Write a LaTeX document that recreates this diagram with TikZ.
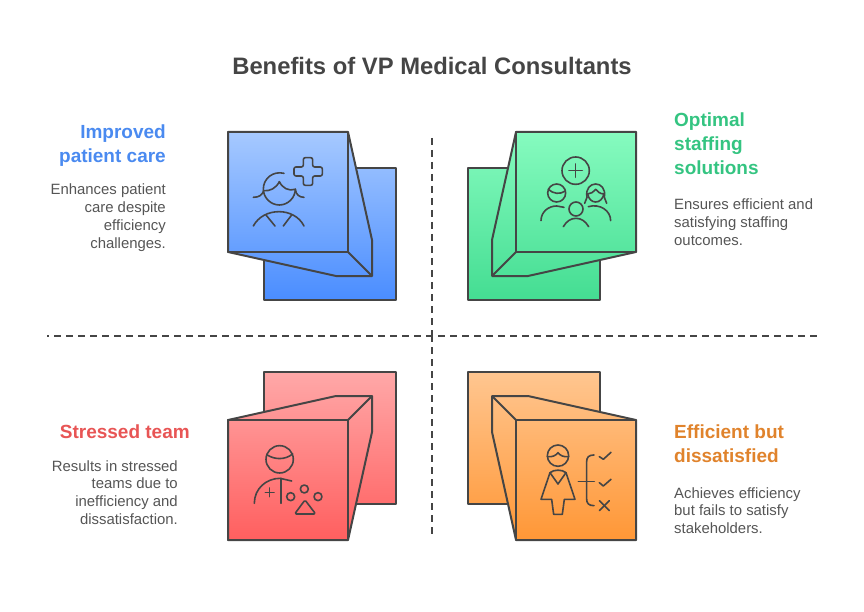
\documentclass[tikz,border=0pt]{standalone}
\usepackage{fontspec}
\setmainfont{Liberation Sans}
\usetikzlibrary{positioning}
\definecolor{inkline}{HTML}{454545}
\definecolor{bodytext}{HTML}{555555}
\definecolor{blueT}{HTML}{A6C9FF}
\definecolor{blueB}{HTML}{4A8DFF}
\definecolor{greenT}{HTML}{86FBBF}
\definecolor{greenB}{HTML}{44DD92}
\definecolor{redT}{HTML}{FFA8A8}
\definecolor{redB}{HTML}{FF5F5F}
\definecolor{orangeT}{HTML}{FFC690}
\definecolor{orangeB}{HTML}{FF9736}
\definecolor{blueHead}{HTML}{4A8AF0}
\definecolor{greenHead}{HTML}{34C481}
\definecolor{redHead}{HTML}{E85555}
\definecolor{orangeHead}{HTML}{E0832C}
\tikzset{
  pane/.style={draw=inkline, line width=2pt, line join=round},
  iconline/.style={draw=inkline, line width=1.6pt, line cap=round, line join=round},
  title/.style={text=inkline, font=\fontsize{23.8}{28}\selectfont\bfseries},
  headleft/.style={font=\fontsize{19}{24}\selectfont\bfseries, align=left, anchor=north west, inner sep=0pt},
  headright/.style={font=\fontsize{19}{24}\selectfont\bfseries, align=right, anchor=north east, inner sep=0pt},
  bodyleft/.style={text=bodytext, font=\fontsize{14.9}{17.9}\selectfont, align=left, anchor=north west, inner sep=0pt},
  bodyright/.style={text=bodytext, font=\fontsize{14.9}{17.9}\selectfont, align=right, anchor=north east, inner sep=0pt},
  zoomed/.style={x=0.3333pt, y=-0.3333pt},
  divider/.style={draw=inkline, line width=1.6pt, dash pattern=on 6.7pt off 5.3pt}
}
% #1 xscale, #2 yscale, #3 and #4 back colours, #5 and #6 front colours
\newcommand{\panes}[6]{
  \begin{scope}[xscale=#1, yscale=#2]
    \path[pane, top color=#3, bottom color=#4] (264,168) rectangle (396,300);
    \path[pane, top color=#5, bottom color=#6] (228,132) -- (348,132) -- (372,240) -- (372,276) -- (336,276) -- (228,252) -- cycle;
    \draw[pane] (228,132) rectangle (348,252);
    \draw[pane] (348,252) -- (372,276);
  \end{scope}
}
\begin{document}
\begin{tikzpicture}[x=1pt, y=-1pt]
\useasboundingbox (0,0) rectangle (864,612);
\node[title] (heading) at (432,66) {Benefits of VP Medical Consultants};

% panes, mirrored about the crossing at (432,336)
\begin{scope}
  \panes{1}{1}{blueT!79!blueB}{blueB}{blueT}{blueT!14!blueB}
\end{scope}
\begin{scope}[shift={(864,0)}]
  \panes{-1}{1}{greenT!79!greenB}{greenB}{greenT}{greenT!14!greenB}
\end{scope}
\begin{scope}[shift={(0,672)}]
  \panes{1}{-1}{redT}{redT!21!redB}{redT!86!redB}{redB}
\end{scope}
\begin{scope}[shift={(864,672)}]
  \panes{-1}{-1}{orangeT}{orangeT!21!orangeB}{orangeT!86!orangeB}{orangeB}
\end{scope}

% dividers
\coordinate (vtop) at (432,138);
\coordinate (vbottom) at (432,534);
\coordinate (hleft) at (47,336);
\coordinate (hright) at (817,336);
\coordinate (cross) at (432,336);
\coordinate (crosslow) at (432,335);
\draw[divider] (vtop) -- (cross);
\draw[divider] (crosslow) -- (vbottom);
\draw[divider, dash phase=4.7pt] (hleft) -- (cross);
\draw[divider, dash phase=6pt] (cross) -- (hright);

% texts
\node[headright, text=blueHead] (carehead) at (166,125) {Improved\\patient care};
\node[bodyright] (carebody) at (166,184) {Enhances patient\\care despite\\efficiency\\challenges.};
\node[headleft, text=greenHead] (staffhead) at (674,113) {Optimal\\staffing\\solutions};
\node[bodyleft] (staffbody) at (674,199) {Ensures efficient and\\satisfying staffing\\outcomes.};
\node[headright, text=redHead] (stresshead) at (190,425) {Stressed team};
\node[bodyright] (stressbody) at (178,460) {Results in stressed\\teams due to\\inefficiency and\\dissatisfaction.};
\node[headleft, text=orangeHead] (efficienthead) at (674,425) {Efficient but\\dissatisfied};
\node[bodyleft] (efficientbody) at (674,487) {Achieves efficiency\\but fails to satisfy\\stakeholders.};

% doctor icon
\begin{scope}[shift={(220,120)}, zoomed]
  \draw[iconline] (192,160) .. controls (160,152) and (130,175) .. (130,207) .. controls (130,233) and (152,255) .. (178,255) .. controls (204,255) and (226,233) .. (226,207);
  \draw[iconline] (100,232) .. controls (118,232) and (128,224) .. (131,212) .. controls (150,214) and (168,205) .. (178,185) .. controls (188,205) and (206,214) .. (226,208) .. controls (228,224) and (238,232) .. (252,232);
  \draw[iconline] (100,318) .. controls (115,290) and (145,275) .. (177,275) .. controls (208,275) and (238,290) .. (252,318);
  \draw[iconline] (138,285) -- (165,318);
  \draw[iconline] (215,285) -- (190,318);
  \draw[iconline, rounded corners=2pt] (250,113) -- (278,113) -- (278,141) -- (307,141) -- (307,168) -- (278,168) -- (278,196) -- (250,196) -- (250,168) -- (222,168) -- (222,141) -- (250,141) -- cycle;
\end{scope}

% team icon
\begin{scope}[shift={(460,120)}, zoomed]
  \draw[iconline] (347,152) circle[radius=41];
  \draw[iconline] (347,132) -- (347,172);
  \draw[iconline] (327,152) -- (367,152);
  \draw[iconline] (290,219) circle[radius=27];
  \draw[iconline] (265,208) .. controls (280,222) and (300,224) .. (316,213);
  \draw[iconline] (243,302) .. controls (243,276) and (265,258) .. (290,258) -- (312,262);
  \draw[iconline] (348,267) circle[radius=21];
  \draw[iconline] (310,320) .. controls (320,303) and (333,295) .. (348,295) .. controls (363,295) and (376,303) .. (386,320);
  \draw[iconline] (381,232) .. controls (376,205) and (392,192) .. (407,192) .. controls (422,192) and (438,205) .. (433,232);
  \draw[iconline] (383,222) .. controls (393,222) and (402,215) .. (407,208) .. controls (412,215) and (421,222) .. (432,222);
  \draw[iconline] (383,222) .. controls (386,238) and (396,246) .. (407,246) .. controls (418,246) and (428,238) .. (432,222);
  \draw[iconline] (374,250) -- (381,232);
  \draw[iconline] (440,250) -- (433,232);
  \draw[iconline] (385,260) .. controls (420,250) and (452,272) .. (452,302);
\end{scope}

% stressed person icon
\begin{scope}[shift={(220,360)}, zoomed]
  \draw[iconline] (179,298) circle[radius=41];
  \draw[iconline] (140,284) .. controls (165,300) and (195,300) .. (218,282);
  \draw[iconline] (103,430) .. controls (103,385) and (140,355) .. (180,355) -- (215,363);
  \draw[iconline] (183,355) -- (183,430);
  \draw[iconline] (149,384) -- (149,410);
  \draw[iconline] (136,397) -- (162,397);
  \draw[iconline] (253,387) circle[radius=12];
  \draw[iconline] (212,410) circle[radius=12];
  \draw[iconline] (294,410) circle[radius=12];
  \draw[iconline, rounded corners=1.5pt] (255,420) -- (287,462) -- (224,462) -- cycle;
\end{scope}

% checklist icon
\begin{scope}[shift={(460,360)}, zoomed]
  \draw[iconline] (294,287) circle[radius=32];
  \draw[iconline] (262,290) .. controls (278,292) and (288,286) .. (294,278) .. controls (300,286) and (310,292) .. (326,290);
  \draw[iconline] (270,338) .. controls (282,328) and (306,328) .. (318,338) -- (345,418) -- (313,418) -- (307,463) -- (281,463) -- (275,418) -- (243,418) -- cycle;
  \draw[iconline] (270,338) -- (294,372) -- (318,338);
  \draw[iconline] (355,365) -- (403,365);
  \draw[iconline] (402,285) .. controls (386,285) and (380,292) .. (380,305) -- (380,417) .. controls (380,430) and (386,437) .. (402,437);
  \draw[iconline] (418,290) -- (430,298) -- (453,277);
  \draw[iconline] (418,368) -- (430,378) -- (453,358);
  \draw[iconline] (418,422) -- (448,452);
  \draw[iconline] (448,422) -- (418,452);
\end{scope}
\end{tikzpicture}
\end{document}
